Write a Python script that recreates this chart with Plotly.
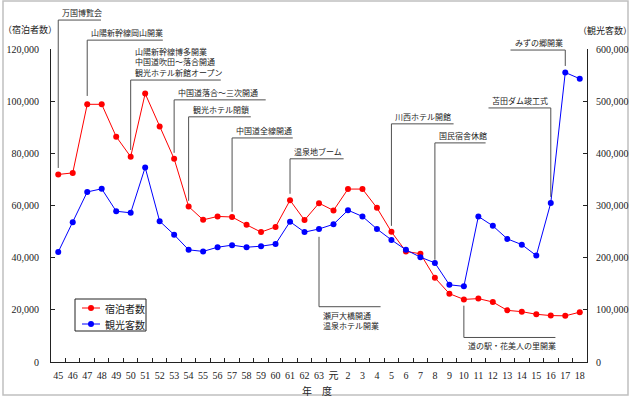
import plotly.graph_objects as go

# ---------------- data ----------------
years = ["45", "46", "47", "48", "49", "50", "51", "52", "53", "54", "55", "56", "57",
         "58", "59", "60", "61", "62", "63", "元", "2", "3", "4", "5", "6", "7", "8",
         "9", "10", "11", "12", "13", "14", "15", "16", "17", "18"]
stay_guests = [71900, 72500, 98800, 98800, 86400, 78700, 102900, 90300, 77900, 59600,
               54500, 55800, 55600, 52600, 49800, 51800, 62000, 54400, 60900, 58100,
               66300, 66300, 59100, 49900, 42400, 41500, 32300, 26200, 24000, 24300,
               23000, 19800, 19300, 18300, 17800, 17700, 19100]
tourists = [211000, 268000, 326000, 332000, 289000, 286000, 373000, 270000, 244000,
            215000, 212000, 220000, 224000, 220000, 222000, 226000, 269000, 249000,
            255000, 264000, 291000, 279000, 255000, 234000, 215000, 201000, 190000,
            148000, 145000, 279000, 261000, 236000, 225000, 204000, 305000, 555000,
            543000]
left_ticks = [0, 20000, 40000, 60000, 80000, 100000, 120000]
right_ticks = [0, 100000, 200000, 300000, 400000, 500000, 600000]
series_names = ["宿泊者数", "観光客数"]

events_year = ["45", "47", "50", "53", "54", "57", "61", "63", "5", "8", "16", "17", "10"]
events_text = ["万国博覧会", "山陽新幹線岡山開業",
               "山陽新幹線博多開業<br>中国道吹田～落合開通<br>観光ホテル新館オープン",
               "中国道落合～三次開通", "観光ホテル閉鎖", "中国道全線開通", "温泉地ブーム",
               "瀬戸大橋開通<br>温泉ホテル開業", "川西ホテル開館", "国民宿舎休館",
               "苫田ダム竣工式", "みずの郷開業", "道の駅・花美人の里開業"]

# ---------------- layout geometry ----------------
W, H = 632, 397
L, R, T, B = 51, 45, 49, 35
PW, PH = W - L - R, H - T - B
N = len(years)
YMAX = 120000

def xp(idx):
    return (idx + 0.5) / N

def yp(v):
    return v / YMAX

def pxx(px):
    return (px - L) / PW

def pxy(py):
    return (H - B - py) / PH

# leader geometry (left-axis units / category units)
ev_low = [74400, 102000, 81300, 80200, 61800, 57600, 64500, 48000, 52200, 39200, 63300, 113500, 21600]
ev_bar = [131100, 123400, 108100, 100500, 94000, 85900, 77900, 21200, 91300, 84000, 97400, 119600, 9400]
ev_span = [2.95, 5.22, 6.22, 6.32, 4.29, 4.19, 3.7, 4.25, 4.29, 3.5, -4.3, -3.78, 6.32]
ev_below = [False] * 7 + [True] + [False] * 4 + [True]

RED, BLUE = "#ff0000", "#0000ff"
LINEC = "#505050"
TXTC = "#222222"
CJK = "Noto Sans CJK JP"
SERIF = "Liberation Serif, Noto Sans CJK JP"

fig = go.Figure()
fig.add_trace(go.Scatter(x=years, y=stay_guests, name=series_names[0], mode="lines+markers",
                         line=dict(color=RED, width=1),
                         marker=dict(color=RED, size=6), yaxis="y"))
fig.add_trace(go.Scatter(x=years, y=tourists, name=series_names[1], mode="lines+markers",
                         line=dict(color=BLUE, width=1),
                         marker=dict(color=BLUE, size=6), yaxis="y2"))

shapes = []
annotations = []
for yr, txt, lo, bar, span, below in zip(events_year, events_text, ev_low, ev_bar, ev_span, ev_below):
    i = years.index(yr)
    x0 = xp(i)
    x1 = xp(i + span)
    shapes.append(dict(type="line", xref="paper", yref="paper", x0=x0, x1=x0,
                       y0=yp(lo), y1=yp(bar), line=dict(color=LINEC, width=1)))
    shapes.append(dict(type="line", xref="paper", yref="paper", x0=x0, x1=x1,
                       y0=yp(bar), y1=yp(bar), line=dict(color=LINEC, width=1)))
    annotations.append(dict(xref="paper", yref="paper", x=min(x0, x1), y=yp(bar),
                            text=txt, showarrow=False, xanchor="left",
                            yanchor="top" if below else "bottom", align="left",
                            xshift=2, yshift=-1 if below else 0,
                            font=dict(family=CJK, size=8, color=TXTC)))

# outer frame
shapes.append(dict(type="rect", xref="paper", yref="paper", x0=pxx(3), x1=pxx(628),
                   y0=pxy(395), y1=pxy(1), line=dict(color="#c0c0c0", width=1.5),
                   layer="below"))

# legend box (drawn by hand to match the compact original)
shapes.append(dict(type="rect", xref="paper", yref="paper", x0=pxx(75), x1=pxx(146),
                   y0=pxy(331), y1=pxy(299), line=dict(color="#222222", width=1),
                   fillcolor="white"))
for k, (name, col) in enumerate(zip(series_names, [RED, BLUE])):
    cy = 308 + 16 * k
    shapes.append(dict(type="line", xref="paper", yref="paper", x0=pxx(82), x1=pxx(100),
                       y0=pxy(cy), y1=pxy(cy), line=dict(color=col, width=1)))
    shapes.append(dict(type="circle", xref="paper", yref="paper", x0=pxx(88), x1=pxx(94),
                       y0=pxy(cy + 3), y1=pxy(cy - 3), line=dict(color=col, width=0),
                       fillcolor=col))
    annotations.append(dict(xref="paper", yref="paper", x=pxx(103), y=pxy(cy), text=name,
                            showarrow=False, xanchor="left", yanchor="middle",
                            font=dict(family=CJK, size=10, color=TXTC)))

annotations += [
    dict(xref="paper", yref="paper", x=pxx(30), y=pxy(30), text="（宿泊者数）",
         showarrow=False, xanchor="center", yanchor="middle",
         font=dict(family=CJK, size=9, color=TXTC)),
    dict(xref="paper", yref="paper", x=pxx(605), y=pxy(31), text="（観光客数）",
         showarrow=False, xanchor="center", yanchor="middle",
         font=dict(family=CJK, size=9, color=TXTC)),
    dict(xref="paper", yref="paper", x=pxx(317), y=pxy(390.5), text="年　度",
         showarrow=False, xanchor="center", yanchor="middle",
         font=dict(family=CJK, size=10, color=TXTC)),
]

fig.update_layout(
    width=W, height=H,
    margin=dict(l=L, r=R, t=T, b=B, pad=0, autoexpand=False),
    paper_bgcolor="white", plot_bgcolor="white",
    showlegend=False,
    xaxis=dict(type="category", range=[-0.5, N - 0.5], showgrid=False, zeroline=False,
               showline=True, linecolor="#222222", linewidth=1, tickangle=0,
               automargin=False,
               ticks="inside", tickson="boundaries", ticklen=4, tickcolor="#222222",
               ticklabelstandoff=4,
               tickfont=dict(family=SERIF, size=10, color=TXTC)),
    yaxis=dict(range=[0, YMAX], tickvals=left_ticks, tickformat=",d", showgrid=False,
               zeroline=False, showline=True, linecolor="#222222", linewidth=1,
               automargin=False,
               ticks="inside", ticklen=4, tickcolor="#222222", ticklabelstandoff=9,
               tickfont=dict(family=SERIF, size=10, color=TXTC)),
    yaxis2=dict(range=[0, 600000], tickvals=right_ticks, tickformat=",d", overlaying="y",
                side="right", showgrid=False, zeroline=False, showline=True,
                automargin=False,
                linecolor="#222222", linewidth=1, ticks="inside", ticklen=4,
                tickcolor="#222222", ticklabelstandoff=6,
                tickfont=dict(family=SERIF, size=10, color=TXTC)),
    shapes=shapes,
    annotations=annotations,
)

fig.write_html("out.html", config={"displayModeBar": False},
               post_script="document.body.style.margin='0';document.body.style.overflow='hidden';")
